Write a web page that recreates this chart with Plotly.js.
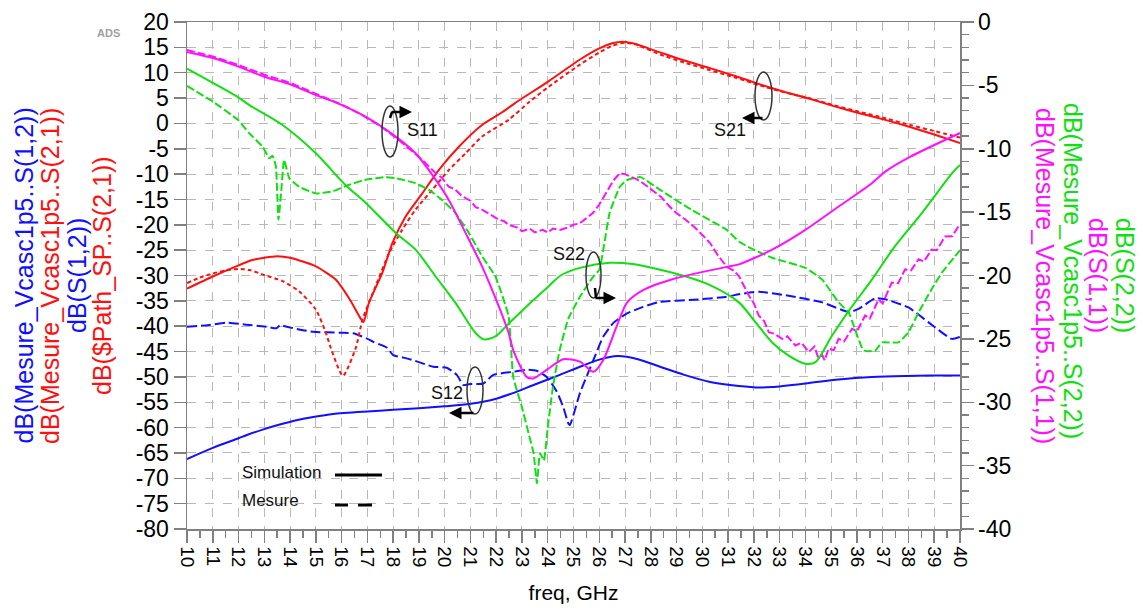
<!DOCTYPE html>
<html>
<head>
<meta charset="utf-8">
<script src="https://cdn.plot.ly/plotly-3.0.1.min.js"></script>
<style>html,body{margin:0;padding:0;background:#fff;}#chart{width:1143px;height:611px;}</style>
</head>
<body>
<div id="chart"></div>
<script>
// ---------- DATA (freq in GHz; left axis dB for S12/S21, right axis dB for S11/S22) ----------
const s12SimX  = [10,11,12,12.3,13,13.6,14.2,14.9,15.67,17,18,19,20,21,22,22.65,23.5,24.47,25.25,26,26.7,27.5,28.36,29.3,30.3,31.42,32.24,32.71,34.0,35.29,36.58,37.87,39.94,40];
const s12SimY  = [-66.2,-64.0,-62.1,-61.5,-60.3,-59.4,-58.6,-57.9,-57.3,-56.8,-56.5,-56.2,-55.8,-55.3,-54.3,-53.2,-51.5,-49.6,-48.0,-46.6,-45.9,-46.5,-48.0,-49.6,-51.0,-51.8,-52.1,-52.0,-51.3,-50.5,-50.0,-49.8,-49.7,-49.7];

const s12MeasX = [10.0,10.8,11.54,12.3,13.09,13.48,13.61,13.87,14.4,14.9,15.94,16.45,16.97,17.23,17.75,18.0,18.4,18.78,19.56,20.08,20.47,20.72,20.98,21.5,21.89,22.66,23.18,23.57,23.96,24.35,24.6,24.8,24.86,25.25,25.77,26.15,26.54,27.06,27.7,28.35,29.65,30.94,31.42,32.19,33.35,34.65,35.68,36.06,36.71,37.1,38.0,38.77,39.68,40];
const s12MeasY = [-40.1,-39.8,-39.3,-39.7,-40.1,-40.4,-39.8,-40.1,-40.7,-41.1,-41.3,-41.4,-42.4,-43.1,-44.2,-45.7,-46.2,-46.7,-48.0,-48.2,-49.6,-51.6,-51.4,-51.3,-49.6,-49.0,-48.6,-48.8,-50.0,-52.9,-55.9,-59.2,-59.5,-53.2,-46.7,-42.1,-39.4,-37.5,-36.2,-35.2,-34.8,-34.2,-33.7,-33.2,-34.0,-35.3,-37.2,-36.6,-34.5,-34.7,-36.3,-39.2,-42.5,-42.1];

const s21SimX  = [10,11,12,12.5,13,13.5,14,15.0,15.77,16.29,16.74,16.85,17.06,17.58,17.97,18.48,19.13,19.77,20.55,21.45,22.23,22.73,24.03,25.25,26,26.5,26.9,27.3,28.36,29.3,30.3,31.3,32.24,33.2,34.2,35.1,36.1,37.1,38.06,39,40];
const s21SimY  = [-32.6,-30.2,-28.0,-27.0,-26.5,-26.2,-26.5,-28.2,-30.8,-34.5,-38.5,-39.2,-35.4,-29.5,-23.6,-18.4,-13.8,-9.2,-4.6,-0.3,2.2,4.0,8.3,12.6,14.8,15.8,16.1,15.8,14.0,12.4,10.9,9.3,7.7,6.2,4.8,3.4,2.0,0.7,-0.7,-2.2,-3.9];

const s21MeasX = [10,10.5,11,11.5,12,12.42,13,13.71,14.35,15.0,15.39,15.58,16.05,16.55,16.81,17.32,17.84,18.35,18.87,19.52,20.16,20.81,21.45,22.48,23.3,24.03,25.25,26,26.5,27,27.4,28.36,29.3,30.3,31.3,32.24,33.2,34.2,35.1,36.1,37.1,38.06,39,40];
const s21MeasY = [-31.5,-30.4,-29.6,-29.0,-28.7,-28.9,-29.9,-31.1,-33.1,-36.7,-41.3,-44.3,-49.8,-44.3,-38.7,-32.1,-25.6,-21.0,-17.0,-13.1,-9.2,-5.9,-2.6,0.7,4.3,7.2,11.6,14.0,15.3,15.9,15.6,13.6,12.0,10.5,9.0,7.5,6.1,4.9,3.6,2.3,1.0,-0.3,-1.5,-2.8];

const s22SimX  = [10,11,12,12.42,13.71,15.0,16.16,16.94,18.1,18.87,19.65,20.42,21.19,21.52,21.97,22.48,23.2,24,24.5,25.25,26.4,27.3,28.4,29.4,30.3,31.42,32.06,32.71,33.35,34.0,34.39,35.03,35.68,36.58,37.48,38.52,39.68,40];
const s22SimY  = [-3.68,-4.8,-5.96,-6.56,-8.13,-10.36,-12.88,-14.28,-16.64,-17.96,-20.08,-22.16,-24.52,-25.04,-24.8,-23.8,-22.4,-20.92,-20.0,-19.4,-19.0,-19.1,-19.56,-20.1,-20.76,-22.12,-23.68,-25.28,-26.32,-26.96,-26.84,-24.76,-22.8,-20.32,-17.68,-15.08,-11.96,-11.28];

const s22MeasX = [10,11,12,12.42,12.94,13.19,13.32,13.45,13.55,13.65,13.77,13.97,14.35,15.0,15.65,16.29,16.94,17.71,18.1,18.87,19.39,19.9,20.42,20.94,21.45,21.97,22.48,22.66,23.0,23.3,23.45,23.58,23.7,23.85,24.0,24.2,24.45,24.8,25.25,25.75,26.0,26.4,26.8,27.07,27.6,28.36,29.6,30.95,31.42,31.87,32.71,34.0,34.65,35.29,35.68,36.26,36.71,36.97,37.61,38.0,38.39,38.9,39.29,39.81,40];
const s22MeasY = [-5.04,-6.28,-7.76,-8.79,-9.84,-10.76,-10.56,-11.4,-15.6,-13.52,-10.88,-12.32,-13.0,-13.52,-13.36,-12.84,-12.44,-12.24,-12.32,-12.72,-13.24,-14.04,-15.08,-16.64,-18.48,-20.08,-23.2,-28.0,-30.4,-32.8,-34.0,-36.4,-34.0,-34.6,-32.0,-28.8,-26.0,-23.4,-21.68,-20.12,-19.56,-15.08,-13.0,-12.48,-12.24,-13.24,-14.84,-16.4,-17.32,-17.84,-18.6,-19.4,-20.32,-22.12,-22.92,-25.92,-25.92,-25.28,-25.28,-24.48,-22.92,-21.08,-19.8,-18.48,-18.0];

const s11SimX  = [10,11,12,13,14,15,15.65,16.94,18.1,18.87,19.65,20.16,20.81,21.45,22.1,22.48,22.66,23.18,23.44,23.96,24.6,25.25,25.77,26.15,26.67,27.07,27.7,29,30.95,31.42,32.71,34.0,35.29,36.58,37.1,38.06,40];
const s11SimY  = [-2.36,-2.84,-3.52,-4.32,-4.92,-5.76,-6.24,-7.48,-9.04,-10.36,-12.44,-14.04,-16.64,-19.28,-22.44,-24.52,-25.88,-28.0,-28.12,-27.44,-26.6,-26.8,-27.6,-26.68,-24.04,-22.16,-21.16,-20.2,-19.32,-19.12,-17.96,-16.4,-14.56,-12.72,-11.8,-10.64,-8.76];

const s11MeasX = [10,11,12,13,14,15,16,16.68,17.5,18.23,19.13,19.65,19.9,20.16,20.4,20.68,21.0,21.2,21.45,21.7,22.1,22.3,22.48,22.8,23.0,23.3,23.5,23.8,24.0,24.2,24.47,24.8,25.0,25.25,25.5,25.75,26.0,26.3,26.55,26.8,27.0,27.2,27.45,27.7,28.0,28.4,28.7,29.0,29.35,29.7,30.0,30.3,30.6,30.95,31.2,31.42,31.81,32.0,32.19,32.4,32.58,32.8,33.1,33.3,33.61,33.85,34.13,34.35,34.5,34.65,34.75,34.9,35.1,35.29,35.5,35.81,36.0,36.32,36.5,36.84,37.0,37.35,37.6,37.87,38.1,38.39,38.6,38.9,39.1,39.42,39.7,39.94,40];
const s11MeasY = [-2.2,-2.72,-3.4,-4.16,-4.8,-5.64,-6.52,-7.2,-8.2,-9.32,-10.88,-11.92,-12.3,-13.0,-13.2,-13.76,-14.1,-14.6,-14.8,-15.1,-15.6,-15.7,-16.0,-16.2,-16.5,-16.3,-16.6,-16.4,-16.6,-16.3,-16.4,-16.2,-16.0,-15.88,-15.5,-15.08,-14.4,-13.4,-12.5,-11.92,-12.0,-12.2,-12.4,-12.72,-13.2,-13.8,-14.5,-15.08,-15.6,-16.2,-16.8,-17.44,-18.4,-19.32,-19.6,-20.04,-21.6,-22.2,-23.16,-23.6,-24.48,-24.6,-25.0,-24.8,-25.52,-25.3,-26.04,-25.6,-26.5,-26.28,-26.7,-25.76,-25.9,-25.0,-25.2,-24.2,-24.4,-23.16,-23.4,-21.88,-22.2,-20.56,-20.6,-19.52,-19.6,-18.72,-18.9,-17.96,-18.0,-16.92,-16.9,-16.12,-16.2];

const leftTickVals  = [20,15,10,5,0,-5,-10,-15,-20,-25,-30,-35,-40,-45,-50,-55,-60,-65,-70,-75,-80];
const leftTickText  = ['20','15','10','5','0','-5','-10','-15','-20','-25','-30','-35','-40','-45','-50','-55','-60','-65','-70','-75','-80'];
const rightTickVals = [0,-5,-10,-15,-20,-25,-30,-35,-40];
const rightTickText = ['0','-5','-10','-15','-20','-25','-30','-35','-40'];

// ---------- STYLE / LAYOUT ----------
const W = 1143, H = 611;
const M = {l:187, r:183, t:22, b:82};
const PW = W - M.l - M.r, PH = H - M.t - M.b;
const px2x = px => (px - M.l) / PW;
const py2y = py => (H - M.b - py) / PH;

const BLUE = '#1010ff', RED = '#ff1010', GREEN = '#10e010', MAG = '#ff10ff';
const FONT = 'Liberation Sans, Arial, sans-serif';

function tr(x, y, color, dash, axis, smooth) {
  const line = {color: color, width: 2, dash: dash};
  if (smooth) { line.shape = 'spline'; line.smoothing = smooth; }
  return {x: x, y: y, type: 'scatter', mode: 'lines', yaxis: axis, line: line, hoverinfo: 'skip'};
}

const traces = [
  tr(s12MeasX, s12MeasY, BLUE, '10px,4px', 'y', 0.5),
  tr(s21MeasX, s21MeasY, RED, '4px,3px', 'y', 0.6),
  tr(s22MeasX, s22MeasY, GREEN, '8px,3px', 'y2', 0.4),
  tr(s11MeasX, s11MeasY, MAG, '8px,3px', 'y2', 0),
  tr(s12SimX, s12SimY, BLUE, 'solid', 'y', 0.8),
  tr(s21SimX, s21SimY, RED, 'solid', 'y', 0.6),
  tr(s22SimX, s22SimY, GREEN, 'solid', 'y2', 0.8),
  tr(s11SimX, s11SimY, MAG, 'solid', 'y2', 0.7)
];

const axisCol = '#808080';
const annotations = [];
function txt(text, px, py, size, color, opts) {
  annotations.push(Object.assign({text: text, xref: 'paper', yref: 'paper', x: px2x(px), y: py2y(py),
    xanchor: 'center', yanchor: 'middle',
    showarrow: false, font: {family: FONT, size: size, color: color}}, opts || {}));
}
function arrow(hx, hy, tx, ty) {
  annotations.push({xref: 'paper', yref: 'paper', x: px2x(hx), y: py2y(hy), ax: tx - hx, ay: ty - hy,
    text: '', showarrow: true, arrowhead: 2, arrowsize: 1, arrowwidth: 2.5, arrowcolor: '#000'});
}
// left axis titles
txt('dB(Mesure_Vcasc1p5..S(1,2))', 23.5, 276, 25, BLUE, {textangle: -90});
txt('dB(Mesure_Vcasc1p5..S(2,1))', 50, 276, 25, RED, {textangle: -90});
txt('dB(S(1,2))', 77, 276, 25, BLUE, {textangle: -90});
txt('dB($Path_SP..S(2,1))', 102, 276, 25, RED, {textangle: -90});
// right axis titles
txt('dB(Mesure_Vcasc1p5..S(1,1))', 1045, 276, 25, MAG, {textangle: 90});
txt('dB(Mesure_Vcasc1p5..S(2,2))', 1073, 271, 25, GREEN, {textangle: 90});
txt('dB(S(1,1))', 1098, 275, 25, MAG, {textangle: 90});
txt('dB(S(2,2))', 1125, 275, 25, GREEN, {textangle: 90});
// misc labels
txt('<b>ADS</b>', 108, 33, 11, '#a0a0a0');
txt('S11', 422, 130, 18, '#111');
txt('S21', 730, 130, 18, '#111');
txt('S22', 569, 254, 18, '#111');
txt('S12', 447, 393, 18, '#111');
txt('Simulation', 240, 472, 17, '#111', {xanchor: 'left'});
txt('Mesure', 240, 500, 17, '#111', {xanchor: 'left'});
// arrows
arrow(412, 112, 390, 112);
arrow(742, 118, 764, 118);
arrow(616, 298, 594, 298);
arrow(449, 413, 475, 413);

const shapes = [];
function ell(x0, x1, y0, y1) {
  shapes.push({type: 'circle', xref: 'paper', yref: 'paper', x0: px2x(x0), x1: px2x(x1), y0: py2y(y1), y1: py2y(y0),
    line: {color: '#333', width: 1.5}});
}
function seg(x0, y0, x1, y1, w) {
  shapes.push({type: 'line', xref: 'paper', yref: 'paper', x0: px2x(x0), x1: px2x(x1), y0: py2y(y0), y1: py2y(y1),
    line: {color: '#000', width: w}});
}
ell(382, 398, 106, 157);
ell(755, 772, 72, 120);
ell(586, 601, 252, 298);
ell(467, 483, 367, 414);
seg(390, 118, 392, 112, 2.5);
seg(595, 288, 596, 298, 2.5);
seg(335, 475, 382, 475, 3);
seg(335, 505, 348, 505, 3);
seg(358, 505, 372, 505, 3);

const layout = {
  width: W, height: H,
  margin: M,
  paper_bgcolor: '#fff', plot_bgcolor: '#fff',
  showlegend: false,
  font: {family: FONT, color: '#000'},
  xaxis: {
    range: [10, 40], tick0: 10, dtick: 1, tickangle: 90,
    ticks: 'outside', ticklen: 12, tickwidth: 1.5, tickcolor: axisCol,
    minor: {dtick: 0.5, ticks: 'outside', ticklen: 7, tickcolor: axisCol, showgrid: false},
    showline: true, linecolor: axisCol, linewidth: 1.5, mirror: true,
    showgrid: true, gridcolor: '#b8b8b8', griddash: 'dash', gridwidth: 1,
    zeroline: false,
    tickfont: {family: FONT, size: 19, color: '#000'},
    title: {text: 'freq, GHz', font: {family: FONT, size: 21, color: '#000'}, standoff: 18}
  },
  yaxis: {
    range: [-80, 20], tickvals: leftTickVals, ticktext: leftTickText,
    ticks: 'outside', ticklen: 12, tickwidth: 1.5, tickcolor: axisCol,
    showline: true, linecolor: axisCol, linewidth: 1.5,
    showgrid: true, gridcolor: '#b8b8b8', griddash: 'dash', gridwidth: 1,
    zeroline: false,
    tickfont: {family: FONT, size: 23, color: '#000'}
  },
  yaxis2: {
    range: [-40, 0], overlaying: 'y', side: 'right',
    tickvals: rightTickVals, ticktext: rightTickText,
    ticks: 'outside', ticklen: 12, tickwidth: 1.5, tickcolor: axisCol,
    minor: {dtick: 1, ticks: 'outside', ticklen: 7, tickcolor: axisCol, showgrid: false},
    showline: true, linecolor: axisCol, linewidth: 1.5,
    showgrid: false, zeroline: false,
    tickfont: {family: FONT, size: 23, color: '#000'}
  },
  annotations: annotations,
  shapes: shapes
};

Plotly.newPlot('chart', traces, layout, {displayModeBar: false, staticPlot: true});
</script>
</body>
</html>
